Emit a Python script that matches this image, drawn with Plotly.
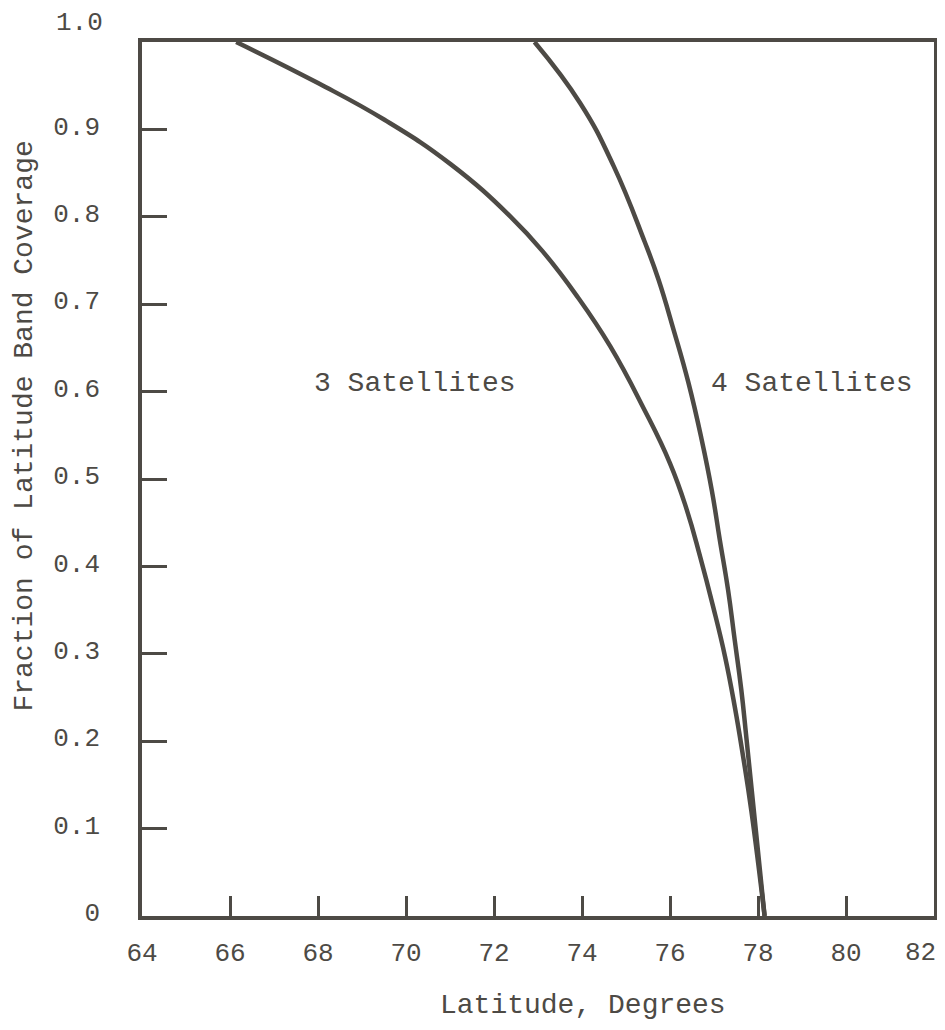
import plotly.graph_objects as go

# Data
lat_3sat = [66.14, 68.00, 69.51, 71.02, 72.38, 73.13, 73.89, 74.64, 75.40,
            76.00, 76.38, 76.68, 76.98, 77.25, 77.47, 77.66, 77.85, 78.15]
frac_3sat = [1.0, 0.953, 0.911, 0.860, 0.800, 0.759, 0.709, 0.652, 0.581,
             0.518, 0.465, 0.412, 0.354, 0.297, 0.240, 0.183, 0.12, 0.0]

lat_4sat = [72.92, 73.96, 74.72, 75.42, 75.74, 76.08, 76.42, 76.72, 76.95, 77.13,
            77.32, 77.47, 77.62, 77.74, 78.15]
frac_4sat = [1.0, 0.930, 0.858, 0.772, 0.728, 0.671, 0.610, 0.545, 0.487, 0.431,
             0.373, 0.316, 0.259, 0.202, 0.0]

x_ticks = [64, 66, 68, 70, 72, 74, 76, 78, 80, 82]
x_tick_text = ["64", "66", "68", "70", "72", "74", "76", "78", "80", ""]
y_ticks = [0, 0.1, 0.2, 0.3, 0.4, 0.5, 0.6, 0.7, 0.8, 0.9, 1.0]
y_tick_text = ["0", "0.1", "0.2", "0.3", "0.4", "0.5", "0.6", "0.7", "0.8", "0.9", ""]

labels = ["3 Satellites", "4 Satellites"]
label_x = [70.2, 79.23]
label_y = [0.609, 0.609]

INK = "#4d4a45"
FONT = "Liberation Mono"
FS_TICK = 26
FS_TXT = 28

fig = go.Figure()
for xs, ys in ((lat_3sat, frac_3sat), (lat_4sat, frac_4sat)):
    fig.add_trace(go.Scatter(x=xs, y=ys, mode="lines",
                             line=dict(color=INK, width=4.5, shape="spline", smoothing=1.3),
                             showlegend=False, hoverinfo="skip"))

for t, xx, yy in zip(labels, label_x, label_y):
    fig.add_annotation(x=xx, y=yy, text=t, showarrow=False,
                       font=dict(family=FONT, size=FS_TXT, color=INK))

# top "1.0" label (sits above the frame in the original)
fig.add_annotation(x=0, xref="paper", xanchor="right", xshift=-37,
                   y=1.0, yref="y", yanchor="middle", yshift=19,
                   text="1.0", showarrow=False,
                   font=dict(family=FONT, size=FS_TICK, color=INK))

# last x label "82" (pulled left to stay inside the page)
fig.add_annotation(x=82, xref="x", xanchor="right", xshift=4,
                   y=0, yref="paper", yanchor="middle", yshift=-37,
                   text="82", showarrow=False,
                   font=dict(family=FONT, size=FS_TICK, color=INK))

# y-axis title
fig.add_annotation(x=0, xref="paper", xanchor="center", xshift=-117,
                   y=0.56, yref="paper", yanchor="middle",
                   text="Fraction of Latitude Band Coverage", textangle=-90,
                   showarrow=False, font=dict(family=FONT, size=FS_TXT, color=INK))

# x-axis title
fig.add_annotation(x=0.557, xref="paper", xanchor="center",
                   y=0, yref="paper", yanchor="middle", yshift=-89,
                   text="Latitude, Degrees", showarrow=False,
                   font=dict(family=FONT, size=FS_TXT, color=INK))

fig.update_xaxes(range=[64, 82], tickvals=x_ticks, ticktext=x_tick_text,
                 ticks="inside", ticklen=20, tickwidth=3, tickcolor=INK,
                 showline=True, linewidth=3.5, linecolor=INK, mirror=True,
                 showgrid=False, zeroline=False, ticklabelstandoff=10,
                 automargin=False,
                 tickfont=dict(family=FONT, size=FS_TICK, color=INK))
fig.update_yaxes(range=[0, 1.0], tickvals=y_ticks, ticktext=y_tick_text,
                 ticks="inside", ticklen=25, tickwidth=3, tickcolor=INK,
                 showline=True, linewidth=3.5, linecolor=INK, mirror=True,
                 showgrid=False, zeroline=False, ticklabelstandoff=33,
                 automargin=False, ticklabelshift=-4,
                 tickfont=dict(family=FONT, size=FS_TICK, color=INK))

# page body adds an 8px margin, so the figure is sized to fit the 945x1030 window
fig.update_layout(width=929, height=1014,
                  margin=dict(l=134, r=3, t=34, b=106),
                  plot_bgcolor="white", paper_bgcolor="white",
                  font=dict(family=FONT, size=FS_TXT, color=INK))

fig.write_html("out.html")
